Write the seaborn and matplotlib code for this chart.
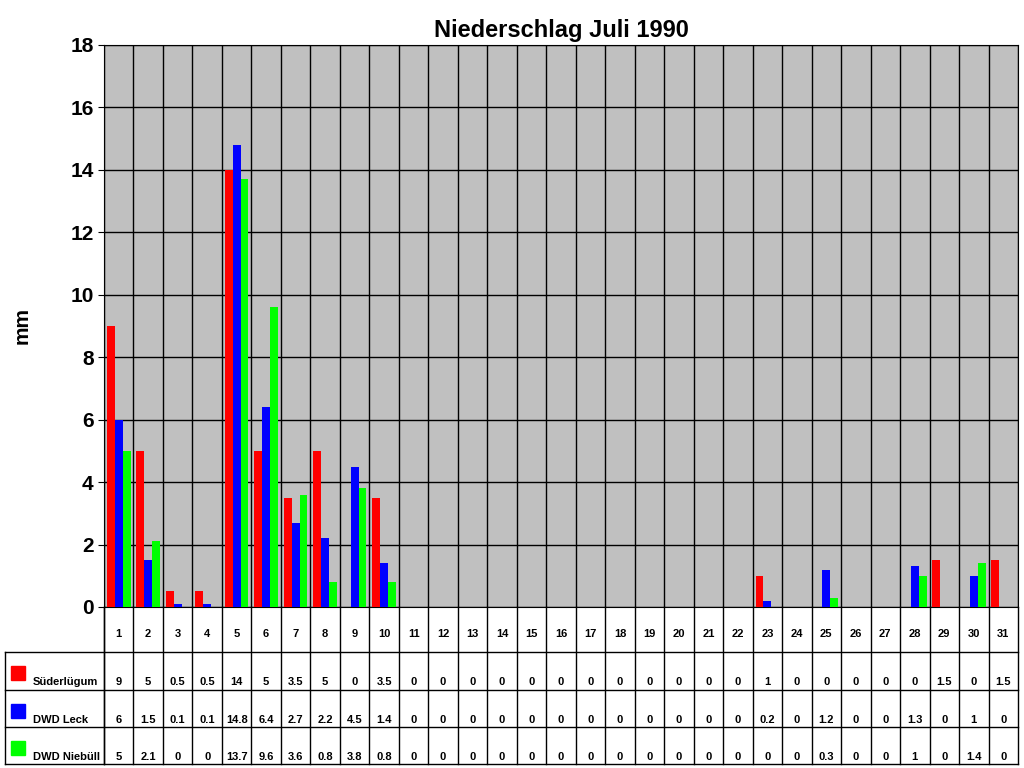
import matplotlib.pyplot as plt
import seaborn as sns
import pandas as pd

days = list(range(1, 32))
series_names = ['Süderlügum', 'DWD Leck', 'DWD Niebüll']
colors = ['#FF0000', '#0000FF', '#00FF00']
suederluegum = [9, 5, 0.5, 0.5, 14, 5, 3.5, 5, 0, 3.5, 0, 0, 0, 0, 0, 0, 0, 0, 0, 0, 0, 0,
                1, 0, 0, 0, 0, 0, 1.5, 0, 1.5]
dwd_leck = [6, 1.5, 0.1, 0.1, 14.8, 6.4, 2.7, 2.2, 4.5, 1.4, 0, 0, 0, 0, 0, 0, 0, 0, 0, 0, 0, 0,
            0.2, 0, 1.2, 0, 0, 1.3, 0, 1, 0]
dwd_niebuell = [5, 2.1, 0, 0, 13.7, 9.6, 3.6, 0.8, 3.8, 0.8, 0, 0, 0, 0, 0, 0, 0, 0, 0, 0, 0, 0,
                0, 0, 0.3, 0, 0, 1, 0, 1.4, 0]
all_values = [suederluegum, dwd_leck, dwd_niebuell]

rows = []
for name, vals in zip(series_names, all_values):
    for d, v in zip(days, vals):
        rows.append({'Tag': str(d), 'Station': name, 'mm': v})
df = pd.DataFrame(rows)

plt.rcParams['font.family'] = ['Liberation Sans', 'DejaVu Sans']
fig = plt.figure(figsize=(10.24, 7.68), dpi=100)
W, H = 1024, 768
L, R, T, B = 104, 1018, 45, 607
ax = fig.add_axes([L / W, 1 - B / H, (R - L) / W, (B - T) / H])
ax.set_facecolor('#C0C0C0')
sns.barplot(data=df, x='Tag', y='mm', hue='Station', palette=colors, ax=ax,
            width=0.8, saturation=1, legend=False, zorder=3)
ax.set_xlim(-0.5, 30.5)
ax.set_ylim(0, 18)
ax.set_yticks(range(0, 19, 2))
ax.tick_params(axis='y', labelsize=15, length=4)
for lab in ax.get_yticklabels():
    lab.set_fontweight('bold')
ax.set_xticks([])
ax.set_xlabel('')
ax.set_ylabel('mm', fontsize=15, fontweight='bold', labelpad=28)
ax.yaxis.grid(True, color='black', lw=1, zorder=0)
for i in range(32):
    ax.axvline(i - 0.5, color='black', lw=1, zorder=1)
for s in ax.spines.values():
    s.set_color('black')
ax.set_title('Niederschlag Juli 1990', fontsize=17, fontweight='bold', pad=6)

# data table
tab = fig.add_axes([0, 0, 1, 1], facecolor='none')
tab.set_xlim(0, W)
tab.set_ylim(H, 0)
tab.axis('off')
cw = (R - L) / 31
row_y = [607, 652, 690, 727, 764]
tab.plot([L, L], [row_y[0], row_y[-1]], color='black', lw=1)
for y in row_y[1:]:
    tab.plot([5, R], [y, y], color='black', lw=1)
tab.plot([5, 5], [row_y[1], row_y[-1]], color='black', lw=1)
for i in range(32):
    tab.plot([L + i * cw] * 2, [row_y[0], row_y[-1]], color='black', lw=1)
for i, d in enumerate(days):
    tab.text(L + (i + 0.5) * cw, 634, str(d), ha='center', va='center', fontsize=8, fontweight='bold')
for r, (name, vals, c) in enumerate(zip(series_names, all_values, colors)):
    yc = row_y[r + 1] + 30
    tab.add_patch(plt.Rectangle((11, yc - 16), 14, 14, color=c))
    tab.text(33, yc, name, ha='left', va='center', fontsize=8, fontweight='bold')
    for i, v in enumerate(vals):
        tab.text(L + (i + 0.5) * cw, yc, f'{v:g}', ha='center', va='center', fontsize=8, fontweight='bold')

fig.savefig('out.png', dpi=100)
